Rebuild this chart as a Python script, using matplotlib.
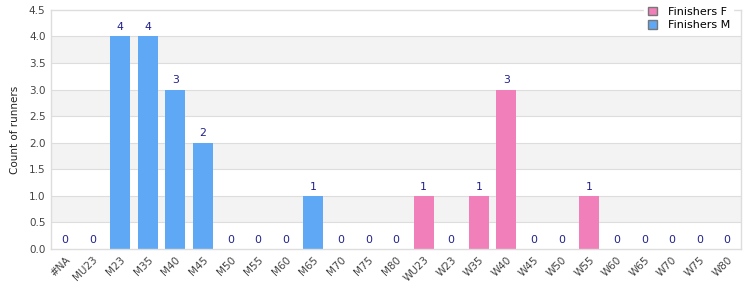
import numpy as np
import matplotlib.pyplot as plt
from matplotlib.patches import Patch

# categories and counts
categories = ['#NA', 'MU23', 'M23', 'M35', 'M40', 'M45', 'M50', 'M55', 'M60', 'M65',
              'M70', 'M75', 'M80', 'WU23', 'W23', 'W35', 'W40', 'W45', 'W50', 'W55',
              'W60', 'W65', 'W70', 'W75', 'W80']
finishers_m = [0, 0, 4, 4, 3, 2, 0, 0, 0, 1, 0, 0, 0, 0, 0, 0, 0, 0, 0, 0, 0, 0, 0, 0, 0]
finishers_f = [0, 0, 0, 0, 0, 0, 0, 0, 0, 0, 0, 0, 0, 1, 0, 1, 3, 0, 0, 1, 0, 0, 0, 0, 0]

col_m = '#5fa8f6'
col_f = '#f17fba'
lab_col = '#1f1f8c'

fig = plt.figure(figsize=(7.5, 3), dpi=100)
ax = fig.add_axes([0.068, 0.17, 0.92, 0.797])

x = np.arange(len(categories))
ax.set_xlim(-0.5, len(categories) - 0.5)
ax.set_ylim(0, 4.5)

# alternating background bands
for lo in [0.5, 1.5, 2.5, 3.5]:
    ax.axhspan(lo, lo + 0.5, color='#f3f3f3', zorder=0, lw=0)
for yv in np.arange(0.5, 4.5, 0.5):
    ax.axhline(yv, color='#dddddd', lw=0.8, zorder=0.5)

ax.bar(x, finishers_m, width=0.72, color=col_m, zorder=2)
ax.bar(x, finishers_f, width=0.72, bottom=finishers_m, color=col_f, zorder=2)

totals = np.array(finishers_m) + np.array(finishers_f)
for xi, t in zip(x, totals):
    ax.text(xi, t + 0.08, str(t), ha='center', va='bottom', fontsize=7.8, color=lab_col)

ax.set_xticks(x)
ax.set_xticklabels(categories, rotation=45, ha='right', rotation_mode='anchor',
                   fontsize=7.5, color='#444444')
ax.set_yticks(np.arange(0, 4.51, 0.5))
ax.set_yticklabels(['%.1f' % v for v in np.arange(0, 4.51, 0.5)], fontsize=7.5, color='#444444')
ax.tick_params(axis='both', length=0, pad=4)
ax.set_ylabel('Count of runners', fontsize=7.5, color='#222222', labelpad=6)

for side in ['top', 'right', 'left', 'bottom']:
    ax.spines[side].set_color('#dddddd')
    ax.spines[side].set_linewidth(1)

handles = [Patch(facecolor=col_f, edgecolor='#777777', label='Finishers F'),
           Patch(facecolor=col_m, edgecolor='#777777', label='Finishers M')]
leg = ax.legend(handles=handles, loc='upper right', bbox_to_anchor=(0.997, 1.05),
                fontsize=8, frameon=True, fancybox=False, handlelength=0.8,
                handleheight=0.8, borderpad=0.3, labelspacing=0.3, handletextpad=1.0)
leg.get_frame().set_edgecolor('white')
leg.get_frame().set_alpha(1)
leg.set_zorder(5)

fig.savefig('out.png', dpi=100)
